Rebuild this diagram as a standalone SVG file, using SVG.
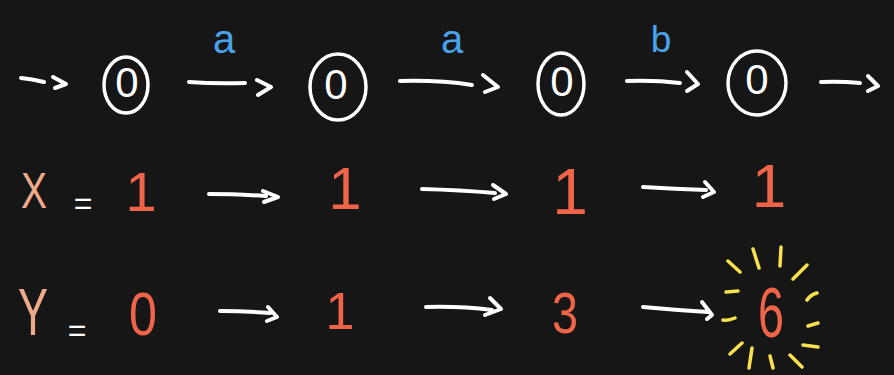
<svg xmlns="http://www.w3.org/2000/svg" width="894" height="375" viewBox="0 0 894 375">
<style>
.st{fill:none;stroke:#ffffff;stroke-width:3.5;stroke-linecap:round;stroke-linejoin:round}
.ar{fill:none;stroke:#ffffff;stroke-width:4;stroke-linecap:round;stroke-linejoin:round}
.ray{fill:none;stroke:#f7e14e;stroke-width:3.5;stroke-linecap:round}
.t{font-family:"Liberation Sans","DejaVu Sans",sans-serif;text-anchor:middle}
.w{fill:#ffffff}
.r{fill:#f0654a}
.p{fill:#eeaa8a}
.b{fill:#4aa3ea}
</style>
<rect x="0" y="0" width="894" height="375" fill="#161616"/>

<g id="connectors">
  <g id="row1-arrows">
    <path class="ar" d="M21,78 Q32,79 44,82 M53,77 L66,84 L55,88"/>
    <path class="ar" d="M189,82 Q215,84 245,83 M257,80 L271,87 L258,95"/>
    <path class="ar" d="M400,81 Q440,80 472,85 M483,75 L498,87 L485,92"/>
    <path class="ar" d="M627,81 Q655,80 680,83 M687,72 L698,84 L687,91"/>
    <path class="ar" d="M821,82 Q840,81 860,83 M868,76 L878,86 L868,91"/>
  </g>
  <g id="row2-arrows">
    <path class="ar" d="M209,194 Q235,194 266,196 M263,191 L278,197 L264,202"/>
    <path class="ar" d="M422,189 Q460,190 495,193 M493,185 L506,194 L494,199"/>
    <path class="ar" d="M643,187 Q675,189 706,190 M705,182 L714,192 L703,197"/>
  </g>
  <g id="row3-arrows">
    <path class="ar" d="M220,311 Q245,311 270,313 M268,307 L277,317 L267,321"/>
    <path class="ar" d="M426,307 Q460,306 492,310 M490,298 L501,309 L485,315"/>
    <path class="ar" d="M643,307 Q675,310 708,312 M702,302 L712,315 L707,319"/>
  </g>
  <g id="edge-labels">
    <text class="t b" x="224" y="53" font-size="40">a</text>
    <text class="t b" x="452" y="53" font-size="40">a</text>
    <text class="t b" x="661" y="52" font-size="37">b</text>
  </g>
</g>

<g id="state0">
  <ellipse class="st" cx="126" cy="85" rx="22" ry="28"/>
  <text class="t w" x="127" y="97" font-size="42">0</text>
</g>
<g id="state1">
  <ellipse class="st" cx="338" cy="87" rx="28" ry="33"/>
  <text class="t w" x="336" y="99" font-size="42">0</text>
</g>
<g id="state2">
  <ellipse class="st" cx="561" cy="84" rx="23" ry="31"/>
  <text class="t w" x="562" y="96" font-size="42">0</text>
</g>
<g id="state3">
  <ellipse class="st" cx="757" cy="83" rx="29" ry="32"/>
  <text class="t w" x="757" y="94" font-size="42">0</text>
</g>

<g id="x-label">
  <text class="t p" x="34" y="208" font-size="50" textLength="26" lengthAdjust="spacingAndGlyphs">X</text>
  <text class="t w" x="83" y="214" font-size="32">=</text>
</g>
<g id="x0"><text class="t r" x="141" y="211" font-size="56">1</text></g>
<g id="x1"><text class="t r" x="345" y="209" font-size="60">1</text></g>
<g id="x2"><text class="t r" x="570" y="214" font-size="64">1</text></g>
<g id="x3"><text class="t r" x="769" y="207" font-size="62">1</text></g>

<g id="y-label">
  <text class="t p" x="33" y="335" font-size="66" textLength="30" lengthAdjust="spacingAndGlyphs">Y</text>
  <text class="t w" x="77" y="341" font-size="32">=</text>
</g>
<g id="y0"><text class="t r" x="143" y="335" font-size="62" textLength="28" lengthAdjust="spacingAndGlyphs">0</text></g>
<g id="y1"><text class="t r" x="340" y="329" font-size="52">1</text></g>
<g id="y2"><text class="t r" x="565" y="333" font-size="57" textLength="26" lengthAdjust="spacingAndGlyphs">3</text></g>
<g id="y3">
  <text class="t r" x="771" y="337" font-size="70" textLength="26" lengthAdjust="spacingAndGlyphs">6</text>
  <path class="ray" d="M728,261 L740,272 M753,249 L759,268 M781,247 L780,266 M807,265 L793,279 M817,293 Q810,295 807,300 M818,323 L808,326 M818,347 L803,345 M790,355 L802,367 M770,356 L773,368 M752,348 L749,368 M742,343 L730,354 M735,318 Q728,321 723,320 M738,291 L726,292"/>
</g>
</svg>
